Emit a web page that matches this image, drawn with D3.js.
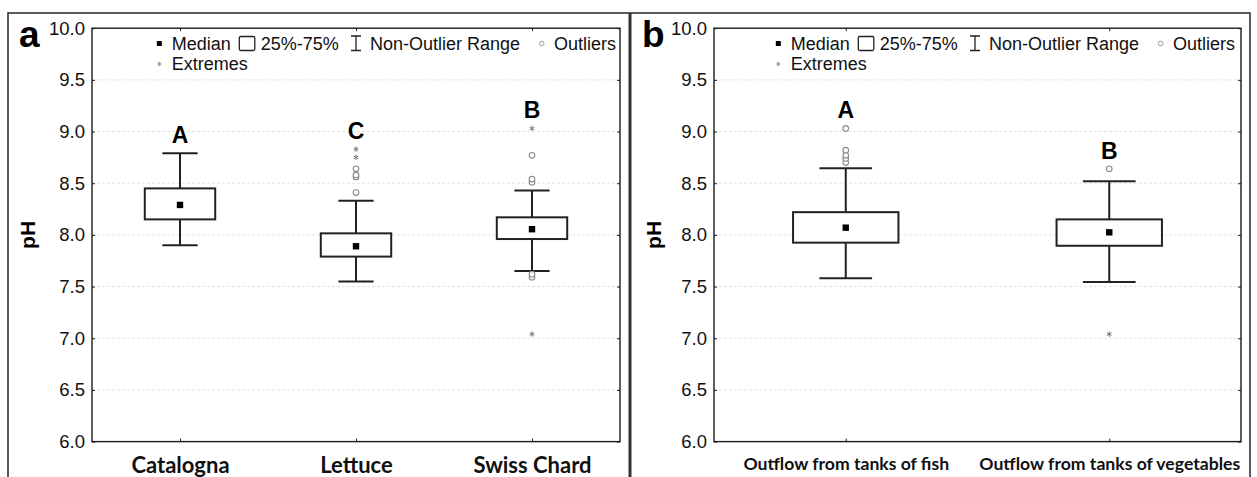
<!DOCTYPE html>
<html>
<head>
<meta charset="utf-8">
<script src="https://cdn.jsdelivr.net/npm/d3@7"></script>
<style>
  html, body { margin: 0; padding: 0; background: #fff; }
  svg { display: block; }
</style>
</head>
<body>
<script>
// ---------- DATA ----------
const yTickValues = [6.0, 6.5, 7.0, 7.5, 8.0, 8.5, 9.0, 9.5, 10.0];

// Panel a
const catsA = ["Catalogna", "Lettuce", "Swiss Chard"];
const lowA = [7.90, 7.55, 7.65];
const q1A = [8.15, 7.79, 7.96];
const medA = [8.29, 7.89, 8.055];
const q3A = [8.45, 8.015, 8.17];
const highA = [8.79, 8.33, 8.43];
const outliersA = [[], [8.41, 8.56, 8.58, 8.64], [7.59, 7.62, 8.51, 8.54, 8.77]];
const extremesA = [[], [8.75, 8.83], [7.04, 9.03]];
const lettersA = ["A", "C", "B"];

// Panel b
const catsB = ["Outflow from tanks of fish", "Outflow from tanks of vegetables"];
const lowB = [7.58, 7.545];
const q1B = [7.925, 7.895];
const medB = [8.07, 8.025];
const q3B = [8.22, 8.15];
const highB = [8.645, 8.52];
const outliersB = [[8.70, 8.74, 8.77, 8.82, 9.03], [8.64]];
const extremesB = [[], [7.04]];
const lettersB = ["A", "B"];

const legendRow1 = ["Median", "25%-75%", "Non-Outlier Range", "Outliers"];
const legendRow2 = ["Extremes"];

// ---------- DRAW ----------
const W = 1257, H = 477;
const svg = d3.select("body").append("svg").attr("width", W).attr("height", H);
const ARIAL = "'Liberation Sans', Arial, sans-serif";
const CAT_FONT = "Lato, 'Open Sans', sans-serif";

// outer frame
svg.append("rect").attr("x", 8).attr("y", 13).attr("width", 1242).attr("height", 480)
  .attr("fill", "none").attr("stroke", "#333").attr("stroke-width", 1.6);
svg.append("line").attr("x1", 630).attr("x2", 630).attr("y1", 13).attr("y2", H)
  .attr("stroke", "#333").attr("stroke-width", 3);

const plotTop = 28.2, plotBottom = 441.6;
const y = d3.scaleLinear().domain([6, 10]).range([plotBottom, plotTop]);

function drawPanel(p) {
  const g = svg.append("g");
  const x = d3.scalePoint().domain(p.cats).range([p.left, p.right]).padding(0.5);
  const step = x.step();
  const bw = step * 0.4, cw = step * 0.2;

  // gridlines
  g.append("g").selectAll("line").data(yTickValues.filter(v => v > 6 && v < 10)).join("line")
    .attr("x1", p.left).attr("x2", p.right)
    .attr("y1", d => y(d)).attr("y2", d => y(d))
    .attr("stroke", "#e2e2e2").attr("stroke-width", 1).attr("stroke-dasharray", "3,2");

  // left axis with labels
  const axL = d3.axisLeft(y).tickValues(yTickValues).tickFormat(d3.format(".1f")).tickSize(-3).tickPadding(7);
  const gl = g.append("g").attr("transform", `translate(${p.left},0)`).call(axL);
  gl.select(".domain").remove();
  gl.selectAll(".tick line").attr("stroke", "#222");
  gl.selectAll("text").attr("font-family", ARIAL).attr("font-size", 18.5).attr("fill", "#111");

  // right axis ticks (inward)
  const axR = d3.axisRight(y).tickValues(yTickValues).tickSize(-3).tickFormat("");
  const gr = g.append("g").attr("transform", `translate(${p.right},0)`).call(axR);
  gr.select(".domain").remove();
  gr.selectAll(".tick line").attr("stroke", "#222");

  // bottom axis with labels
  const axB = d3.axisBottom(x).tickSize(-3).tickPadding(16);
  const gb = g.append("g").attr("transform", `translate(0,${plotBottom})`).call(axB);
  gb.select(".domain").remove();
  gb.selectAll(".tick line").attr("stroke", "#222");
  gb.selectAll("text").attr("font-family", CAT_FONT).attr("font-weight", 700)
    .attr("font-size", p.catSize).attr("fill", "#111");

  // top ticks
  const axT = d3.axisTop(x).tickSize(-3).tickFormat("");
  const gt = g.append("g").attr("transform", `translate(0,${plotTop})`).call(axT);
  gt.select(".domain").remove();
  gt.selectAll(".tick line").attr("stroke", "#222");

  // plot frame
  g.append("rect").attr("x", p.left).attr("y", plotTop).attr("width", p.right - p.left).attr("height", plotBottom - plotTop)
    .attr("fill", "none").attr("stroke", "#1a1a1a").attr("stroke-width", 1.4);

  // y title
  g.append("text").attr("transform", `translate(${p.phX},${y(8)}) rotate(-90)`)
    .attr("text-anchor", "middle").attr("dominant-baseline", "central")
    .attr("font-family", ARIAL).attr("font-weight", 700).attr("font-size", 21).text("pH");

  // panel letter
  g.append("text").attr("x", p.letterX).attr("y", 47)
    .attr("font-family", ARIAL).attr("font-weight", 700).attr("font-size", 37).text(p.panel);

  const idx = d3.range(p.cats.length);
  const boxes = g.append("g").selectAll("g").data(idx).join("g");
  // whiskers
  boxes.append("line").attr("x1", i => x(p.cats[i])).attr("x2", i => x(p.cats[i]))
    .attr("y1", i => y(p.low[i])).attr("y2", i => y(p.high[i]))
    .attr("stroke", "#222").attr("stroke-width", 2);
  boxes.append("line").attr("x1", i => x(p.cats[i]) - cw / 2).attr("x2", i => x(p.cats[i]) + cw / 2)
    .attr("y1", i => y(p.low[i])).attr("y2", i => y(p.low[i]))
    .attr("stroke", "#222").attr("stroke-width", 2);
  boxes.append("line").attr("x1", i => x(p.cats[i]) - cw / 2).attr("x2", i => x(p.cats[i]) + cw / 2)
    .attr("y1", i => y(p.high[i])).attr("y2", i => y(p.high[i]))
    .attr("stroke", "#222").attr("stroke-width", 2);
  // box
  boxes.append("rect").attr("x", i => x(p.cats[i]) - bw / 2).attr("width", bw)
    .attr("y", i => y(p.q3[i])).attr("height", i => y(p.q1[i]) - y(p.q3[i]))
    .attr("fill", "#fff").attr("stroke", "#222").attr("stroke-width", 2);
  // median
  boxes.append("rect").attr("x", i => x(p.cats[i]) - 3.2).attr("y", i => y(p.med[i]) - 3.2)
    .attr("width", 6.4).attr("height", 6.4).attr("fill", "#000");
  // outliers, extremes, letters
  boxes.each(function (i) {
    d3.select(this).selectAll("circle").data(p.out[i]).join("circle")
      .attr("cx", x(p.cats[i])).attr("cy", d => y(d)).attr("r", 2.8)
      .attr("fill", "#fff").attr("stroke", "#8a8a8a").attr("stroke-width", 1.1);
    d3.select(this).selectAll("path.ext").data(p.ext[i]).join("path").attr("class", "ext")
      .attr("transform", d => `translate(${x(p.cats[i])},${y(d)})`)
      .attr("d", d3.symbol(d3.symbolAsterisk, 20)())
      .attr("fill", "none").attr("stroke", "#777").attr("stroke-width", 1);
    const topVal = d3.max([p.high[i], ...p.out[i], ...p.ext[i]]);
    d3.select(this).append("text").attr("x", x(p.cats[i])).attr("y", y(topVal) - 18)
      .attr("text-anchor", "middle").attr("dominant-baseline", "central")
      .attr("font-family", ARIAL).attr("font-weight", 700).attr("font-size", 23).text(p.letters[i]);
  });

  // legend
  const lg = g.append("g").attr("transform", `translate(${p.legX},0)`);
  const r1 = 43.5, r2 = 64;
  function lt(xx, yy, t) {
    lg.append("text").attr("x", xx).attr("y", yy).attr("dominant-baseline", "central")
      .attr("font-family", ARIAL).attr("font-size", 18).attr("fill", "#111").text(t);
  }
  lg.append("rect").attr("x", -2.5).attr("y", r1 - 2.5).attr("width", 5).attr("height", 5).attr("fill", "#000");
  lt(12.4, r1, legendRow1[0]);
  lg.append("rect").attr("x", 80).attr("y", r1 - 7).attr("width", 15.5).attr("height", 14).attr("rx", 1.5)
    .attr("fill", "#fff").attr("stroke", "#222").attr("stroke-width", 1.3);
  lt(101.4, r1, legendRow1[1]);
  lg.append("path").attr("d", `M191.7,${r1 - 7.5}H201.7M196.7,${r1 - 7.5}V${r1 + 7}M191.7,${r1 + 7}H201.7`)
    .attr("fill", "none").attr("stroke", "#222").attr("stroke-width", 1.3);
  lt(210.7, r1, legendRow1[2]);
  lg.append("circle").attr("cx", 382.4).attr("cy", r1).attr("r", 2.3)
    .attr("fill", "#fff").attr("stroke", "#999").attr("stroke-width", 1);
  lt(394.7, r1, legendRow1[3]);
  lg.append("path").attr("transform", `translate(0,${r2})`).attr("d", d3.symbol(d3.symbolAsterisk, 14)())
    .attr("fill", "none").attr("stroke", "#999").attr("stroke-width", 1);
  lt(12.4, r2, legendRow2[0]);
}

drawPanel({
  panel: "a", letterX: 19, phX: 27, left: 92, right: 620, cats: catsA, catSize: 22,
  low: lowA, q1: q1A, med: medA, q3: q3A, high: highA, out: outliersA, ext: extremesA,
  letters: lettersA, legX: 159.3
});
drawPanel({
  panel: "b", letterX: 642, phX: 653, left: 714, right: 1241, cats: catsB, catSize: 17.6,
  low: lowB, q1: q1B, med: medB, q3: q3B, high: highB, out: outliersB, ext: extremesB,
  letters: lettersB, legX: 778.3
});
</script>
</body>
</html>
